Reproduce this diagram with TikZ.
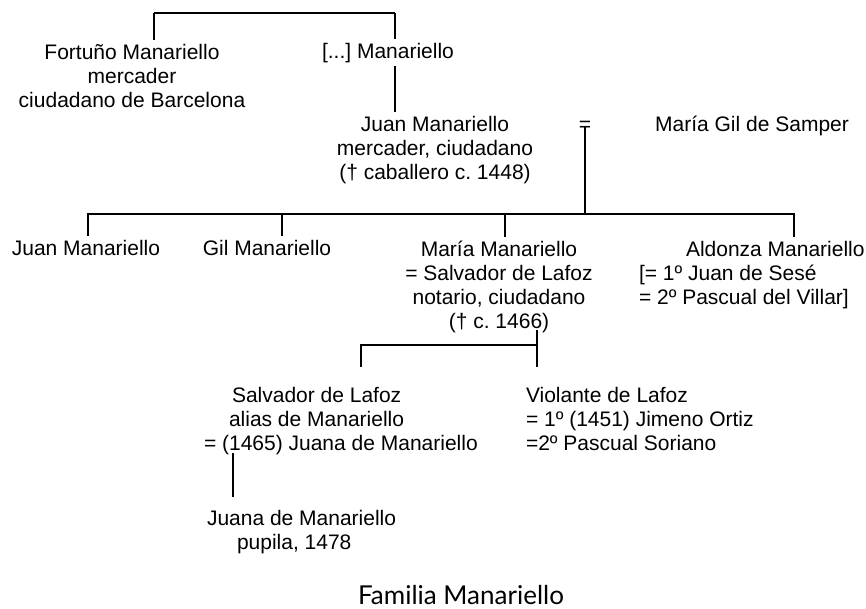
\documentclass[tikz,border=0pt]{standalone}
\usepackage{fontspec}
\setmainfont{Liberation Sans}
\newfontfamily\capfont{Lato}
\frenchspacing
\begin{document}
\begin{tikzpicture}[x=1pt,y=-1pt,
  person/.style={inner sep=0pt, outer sep=4pt, font=\fontsize{21}{24}\selectfont\frenchspacing, align=center},
  personl/.style={inner sep=0pt, outer sep=4pt, font=\fontsize{21}{24}\selectfont\frenchspacing, align=left},
  link/.style={line width=1.6pt},
  toplink/.style={line width=2.6pt}]
\useasboundingbox (0,0) rectangle (866,608);
% persons (anchor = baseline of the last line)
\node[person, anchor=base] (fortuno) at (132,107) {Fortuño Manariello\\mercader\\ciudadano de Barcelona};
\node[person, anchor=base] (anon) at (388,58) {[...] Manariello};
\node[person, anchor=base] (juan) at (435,179) {Juan Manariello\\mercader, ciudadano\\(† caballero c. 1448)};
\node[person, anchor=base, outer sep=0pt] (eq) at (585,131) {=};
\node[person, anchor=base] (mgil) at (752,131) {María Gil de Samper};
\node[person, anchor=base] (juan2) at (86,255) {Juan Manariello};
\node[person, anchor=base] (gil) at (267,255) {Gil Manariello};
\node[person, anchor=base] (maria) at (499,328) {María Manariello\\= Salvador de Lafoz\\notario, ciudadano\\(† c. 1466)};
\node[personl, anchor=base west] (aldonza) at (635,304) {\hspace*{47pt}Aldonza Manariello\\{}[= 1º Juan de Sesé\\= 2º Pascual del Villar]};
\node[personl, anchor=base west] (salvador) at (200,450) {\hspace*{28pt}Salvador de Lafoz\\\hspace*{25pt}alias de Manariello\\= (1465) Juana de Manariello};
\node[personl, anchor=base west] (violante) at (522,450) {Violante de Lafoz\\= 1º (1451) Jimeno Ortiz\\=2º Pascual Soriano};
\node[personl, anchor=base west] (juana) at (203,549) {Juana de Manariello\\\hspace*{30pt}pupila, 1478};
\node[anchor=base, inner sep=0pt, font=\capfont\fontsize{26}{30}\selectfont] (caption) at (461,604) {Familia Manariello};
% coordinates of the brackets
\coordinate (t1) at (154,13);
\coordinate (t2) at (395,13);
\coordinate (b1) at (88,214);
\coordinate (b2) at (282,214);
\coordinate (b3) at (505,214);
\coordinate (b4) at (794,214);
\coordinate (m0) at (537,330);
\coordinate (m1) at (537,345);
\coordinate (m2) at (361,345);
\coordinate (mv) at (537,367);
\coordinate (ms) at (361,367);
\coordinate (j0) at (233,453);
\coordinate (j1) at (233,497);
% connectors
\draw[link] (t1 |- fortuno.north) -- (t1);
\draw[toplink] (t1) -- (t2);
\draw[link] (t2) -- (t2 |- anon.north);
\draw[link] (t2 |- anon.south) -- (t2 |- juan.north);
\draw[link] (eq.center) -- (eq.center |- b1);
\draw[link] (b1 |- juan2.north) -- (b1) -- (b4) -- (b4 |- aldonza.north);
\draw[link] (b2) -- (b2 |- gil.north);
\draw[link] (b3) -- (b3 |- maria.north);
\draw[link] (m0) -- (mv);
\draw[link] (m1) -- (m2) -- (ms);
\draw[link] (j0) -- (j1);
\end{tikzpicture}
\end{document}
